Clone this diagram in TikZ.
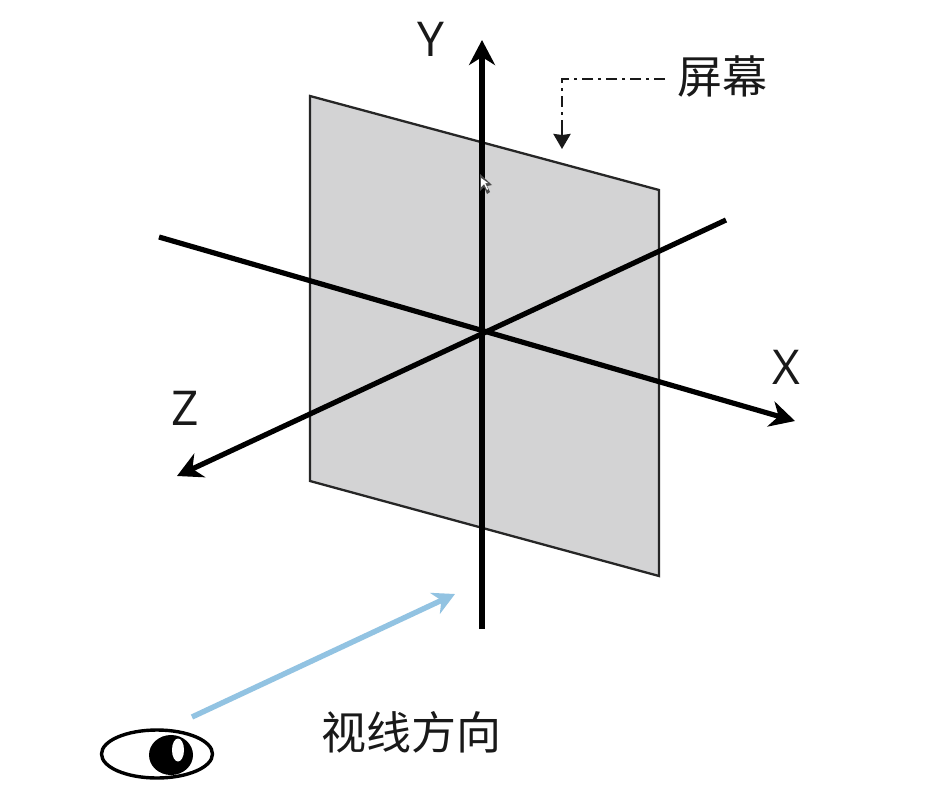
\documentclass[tikz,border=0pt]{standalone}
\usepackage{fontspec}
\setmainfont{Open Sans}
\newfontfamily\cjk{Noto Sans CJK SC}
\usetikzlibrary{arrows.meta,shapes.geometric}
\definecolor{screengray}{RGB}{211,211,212}
\definecolor{sightblue}{RGB}{146,195,226}
\tikzset{
  axis/.style={line width=5.2pt,-{Stealth[length=25pt,width=26pt,inset=8pt]}},
  screen/.style={draw=black!85,line width=2.3pt,fill=screengray,line join=miter},
  leader/.style={line width=2.8pt,dash pattern=on 11pt off 5pt on 3pt off 5pt,black!90},
  leadertip/.style={line width=2.8pt,black!90,-{Stealth[length=15pt,width=17pt,inset=1pt]}},
  sight/.style={draw=sightblue,line width=5.4pt,-{Stealth[length=22pt,width=23pt,inset=7pt]}},
  axislabel/.style={font=\fontsize{48}{48}\selectfont,text=black!90,inner sep=0pt},
  cjklabel/.style={font=\cjk\fontsize{45}{45}\selectfont,text=black!90,inner sep=0pt},
}
\begin{document}
\begin{tikzpicture}[x=1pt,y=-1pt]
\useasboundingbox[fill=white] (0,0) rectangle (945,790);
% screen
\coordinate (s1) at (310,96);
\coordinate (s2) at (659,190);
\coordinate (s3) at (659,576);
\coordinate (s4) at (310,481);
\draw[screen] (s1) -- (s2) -- (s3) -- (s4) -- cycle;
% axes
\coordinate (ybot) at (482,629);
\coordinate (ytop) at (482,40);
\coordinate (xl) at (159,237);
\coordinate (xr) at (795,421);
\coordinate (zr) at (726,220);
\coordinate (zl) at (177,476);
\draw[axis] (ybot) -- (ytop);
\draw[axis] (xl) -- (xr);
\draw[axis] (zr) -- (zl);
% cursor
\fill[black!70] (480,174) -- (480,191) -- (484,187) -- (487,194) -- (490,192) -- (487,186) -- (492,185) -- cycle;
\fill[white] (481,178) -- (481,187) -- (484,184) -- (487,190) -- (488,189) -- (485,183) -- (488,183) -- cycle;
% axis labels
\node[axislabel] (ly) at (431,39) {Y};
\node[axislabel] (lx) at (786,367) {X};
\node[axislabel] (lz) at (185,408) {Z};
% screen label
\node[cjklabel] (lscreen) at (722,76) {屏幕};
\coordinate (bend) at (562,79);
\coordinate (ldend) at (665,79);
\coordinate (ltip) at (562,149);
\coordinate (lmid) at (562,120);
\draw[leader] (ldend) -- (bend) -- (lmid);
\draw[leadertip] (lmid) -- (ltip);
% sight
\coordinate (sa) at (192,717);
\coordinate (sb) at (455,594);
\draw[sight] (sa) -- (sb);
\node[cjklabel] (lsight) at (411,732) {视线方向};
% eye
\node[draw=black,line width=3.4pt,fill=white,ellipse,minimum width=111pt,minimum height=48pt,inner sep=0pt] (eye) at (157,754) {};
\node[fill=black,ellipse,minimum width=44pt,minimum height=40pt,inner sep=0pt] (pupil) at (171,755) {};
\node[fill=white,ellipse,minimum width=12pt,minimum height=23pt,inner sep=0pt] (glint) at (178,750) {};
\end{tikzpicture}
\end{document}
